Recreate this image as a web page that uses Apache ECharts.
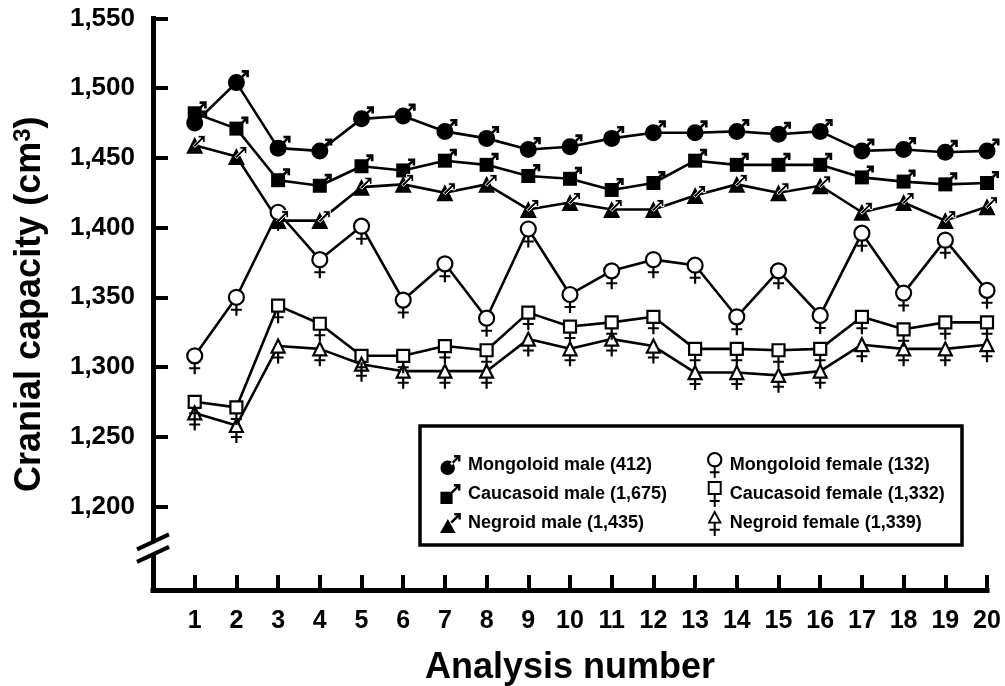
<!DOCTYPE html>
<html>
<head>
<meta charset="utf-8">
<title>Cranial capacity by analysis</title>
<script src="https://cdn.jsdelivr.net/npm/echarts@6/dist/echarts.min.js"></script>
<style>
  html, body { margin: 0; padding: 0; background: #fff; }
  #chart { width: 1005px; height: 686px; }
</style>
</head>
<body>
<div id="chart"></div>
<script>
// ---- data -------------------------------------------------------------
const analysisNumbers = [1, 2, 3, 4, 5, 6, 7, 8, 9, 10, 11, 12, 13, 14, 15, 16, 17, 18, 19, 20];

const mongoloidMale   = [1475, 1504, 1457, 1455, 1478, 1480, 1469, 1464, 1456, 1458, 1464, 1468, 1468, 1469, 1467, 1469, 1455, 1456, 1454, 1455];
const caucasoidMale   = [1482, 1471, 1434, 1430, 1444, 1441, 1448, 1445, 1437, 1435, 1427, 1432, 1448, 1445, 1445, 1445, 1436, 1433, 1431, 1432];
const negroidMale     = [1459, 1451, 1405, 1405, 1429, 1431, 1425, 1431, 1413, 1418, 1413, 1413, 1423, 1431, 1425, 1430, 1411, 1418, 1405, 1415];
const mongoloidFemale = [1308, 1350, 1411, 1377, 1401, 1348, 1374, 1335, 1399, 1352, 1369, 1377, 1373, 1336, 1369, 1337, 1396, 1353, 1391, 1355];
const caucasoidFemale = [1275, 1271, 1344, 1331, 1308, 1308, 1315, 1312, 1339, 1329, 1332, 1336, 1313, 1313, 1312, 1313, 1336, 1327, 1332, 1332];
const negroidFemale   = [1267, 1258, 1315, 1313, 1302, 1297, 1297, 1297, 1320, 1313, 1320, 1315, 1296, 1296, 1294, 1297, 1316, 1313, 1313, 1316];

const yTickValues = [1200, 1250, 1300, 1350, 1400, 1450, 1500, 1550];

const seriesNames = [
  'Mongoloid male (412)',
  'Caucasoid male (1,675)',
  'Negroid male (1,435)',
  'Mongoloid female (132)',
  'Caucasoid female (1,332)',
  'Negroid female (1,339)'
];

// ---- styling ----------------------------------------------------------
const ink = '#000';
const fontFamily = '"Liberation Sans", Arial, Helvetica, sans-serif';

// male sign arrow (tip at upper right) and female sign cross
const arrowPath = 'path://M12 0V7H9.4V4.4L2 11.8L0.2 10L7.6 2.6H5V0Z';
const crossPath = 'path://M4 0H6V4H10V6H6V11H4V6H0V4H4Z';

// combined legend glyphs
const arrowAt = 'M24 0V7.6H21.2V4.8L13.9 12.1L11.9 10.1L19.2 2.8H16.4V0Z';
const legendIcons = [
  'path://M0.5 15A8.5 8.5 0 1 0 17.5 15A8.5 8.5 0 1 0 0.5 15Z' + arrowAt,
  'path://M1 9H15V23H1Z' + arrowAt,
  'path://M0 23L9 7L18 23Z' + arrowAt,
  'path://M0 8A8 8 0 1 0 16 8A8 8 0 1 0 0 8Z M2.2 8A5.8 5.8 0 1 1 13.8 8A5.8 5.8 0 1 1 2.2 8Z M7 16H9V20H13V22H9V27H7V22H3V20H7Z',
  'path://M0 0H14V14H0Z M2 2V12H12V2Z M6 14H8V19H12V21H8V26H6V21H2V19H6Z',
  'path://M7 0L14 13H0Z M7 3.8L3 11.2H11Z M6 13H8V18H12V20H8V25H6V20H2V18H6Z'
];

function pairs(values) {
  return analysisNumbers.map((n, i) => [n, values[i]]);
}

function withThousands(v) {
  return String(v).replace(/\B(?=(\d{3})+(?!\d))/g, ',');
}

const groups = [
  { values: mongoloidMale,   symbol: 'circle',   size: 17, fill: ink,    glyph: arrowPath, glyphSize: [12, 12], offset: [6.5, -6.5] },
  { values: caucasoidMale,   symbol: 'rect',     size: 14, fill: ink,    glyph: arrowPath, glyphSize: [12, 12], offset: [6, -6] },
  { values: negroidMale,     symbol: 'triangle', size: 17, fill: ink,    glyph: arrowPath, glyphSize: [12, 12], offset: [4.5, -4], glyphBorder: '#fff' },
  { values: mongoloidFemale, symbol: 'circle',   size: 15, fill: '#fff', glyph: crossPath, glyphSize: [11, 11], offset: [0, 13] },
  { values: caucasoidFemale, symbol: 'rect',     size: 12, fill: '#fff', glyph: crossPath, glyphSize: [11, 11], offset: [0, 12] },
  { values: negroidFemale,   symbol: 'triangle', size: 13, fill: '#fff', glyph: crossPath, glyphSize: [11, 11], offset: [0, 12] }
];

const series = [];
groups.forEach((g, i) => {
  series.push({
    name: seriesNames[i],
    type: 'line',
    data: pairs(g.values),
    symbol: g.symbol,
    symbolSize: g.size,
    showAllSymbol: true,
    lineStyle: { color: ink, width: 2.6 },
    itemStyle: { color: g.fill, borderColor: ink, borderWidth: g.fill === ink ? 0 : 2.2 },
    z: 3 + i * 0.1,
    silent: true
  });
});
groups.forEach((g, i) => {
  series.push({
    name: seriesNames[i] + ' sign',
    type: 'scatter',
    data: pairs(g.values),
    symbol: g.glyph,
    symbolSize: g.glyphSize,
    symbolOffset: g.offset,
    itemStyle: { color: ink, borderColor: g.glyphBorder || ink, borderWidth: g.glyphBorder ? 1 : 0, opacity: 1 },
    z: 5,
    silent: true
  });
});

const legendText = { fontSize: 18, fontWeight: 'bold', color: ink, fontFamily };
const legendItem = i => ({
  name: seriesNames[i],
  icon: legendIcons[i],
  itemStyle: { color: ink, borderWidth: 0, opacity: 1 }
});

const option = {
  animation: false,
  backgroundColor: '#fff',
  textStyle: { fontFamily },
  grid: { left: 153, right: 18, top: 18.5, bottom: 96, outerBoundsMode: 'none' },
  xAxis: {
    type: 'value',
    min: 0,
    max: 20,
    interval: 1,
    name: 'Analysis number',
    nameLocation: 'middle',
    nameGap: 60,
    nameTextStyle: { fontSize: 36, fontWeight: 'bold', color: ink, fontFamily },
    axisLine: { lineStyle: { color: ink, width: 5, cap: 'square' } },
    axisTick: { inside: true, length: 15, lineStyle: { color: ink, width: 4 }, customValues: analysisNumbers },
    axisLabel: { customValues: analysisNumbers, fontSize: 25, fontWeight: 'bold', color: ink, margin: 19, fontFamily },
    splitLine: { show: false }
  },
  yAxis: {
    type: 'value',
    min: 1140,
    max: 1550,
    name: 'Cranial capacity (cm{sup|3})',
    nameLocation: 'middle',
    nameRotate: 90,
    nameGap: 103,
    nameTextStyle: {
      fontSize: 36, fontWeight: 'bold', color: ink, fontFamily,
      rich: { sup: { fontSize: 24, fontWeight: 'bold', color: ink, fontFamily, padding: [0, 0, 15, 0] } }
    },
    axisLine: { lineStyle: { color: ink, width: 5, cap: 'square' } },
    axisTick: { inside: true, length: 15, lineStyle: { color: ink, width: 4 }, customValues: yTickValues },
    axisLabel: {
      customValues: yTickValues,
      formatter: v => withThousands(v),
      fontSize: 26, fontWeight: 'bold', color: ink, margin: 18, fontFamily
    },
    splitLine: { show: false }
  },
  legend: [
    {
      left: 435, top: 450, orient: 'vertical',
      itemWidth: 25, itemHeight: 20, itemGap: 9,
      selectedMode: false, textStyle: legendText,
      data: [0, 1, 2].map(legendItem)
    },
    {
      left: 702, top: 447, orient: 'vertical',
      itemWidth: 20, itemHeight: 26, itemGap: 3,
      selectedMode: false, textStyle: legendText,
      data: [3, 4, 5].map(legendItem)
    }
  ],
  series
};

const chart = echarts.init(document.getElementById('chart'), null, { renderer: 'canvas' });
chart.setOption(option);

// legend frame and the break marks on the value axis
const breakPt = chart.convertToPixel({ gridIndex: 0 }, [0, 1170]);
const ax = breakPt[0], cy = breakPt[1];
const half = 6.25, run = 16, rise = 7.5;
chart.setOption({
  graphic: [
    {
      type: 'rect', z: 3,
      shape: { x: 420, y: 426, width: 542, height: 119 },
      style: { fill: '#fff', stroke: ink, lineWidth: 3.5 }
    },
    {
      type: 'polygon', z: 100,
      shape: { points: [[ax - 5, cy - half + 2.4], [ax + 5, cy - half - 2.4], [ax + 5, cy + half - 2.4], [ax - 5, cy + half + 2.4]] },
      style: { fill: '#fff' }
    },
    {
      type: 'line', z: 101,
      shape: { x1: ax - run, y1: cy - half + rise, x2: ax + run, y2: cy - half - rise },
      style: { stroke: ink, lineWidth: 4 }
    },
    {
      type: 'line', z: 101,
      shape: { x1: ax - run, y1: cy + half + rise, x2: ax + run, y2: cy + half - rise },
      style: { stroke: ink, lineWidth: 4 }
    }
  ]
});
</script>
</body>
</html>
